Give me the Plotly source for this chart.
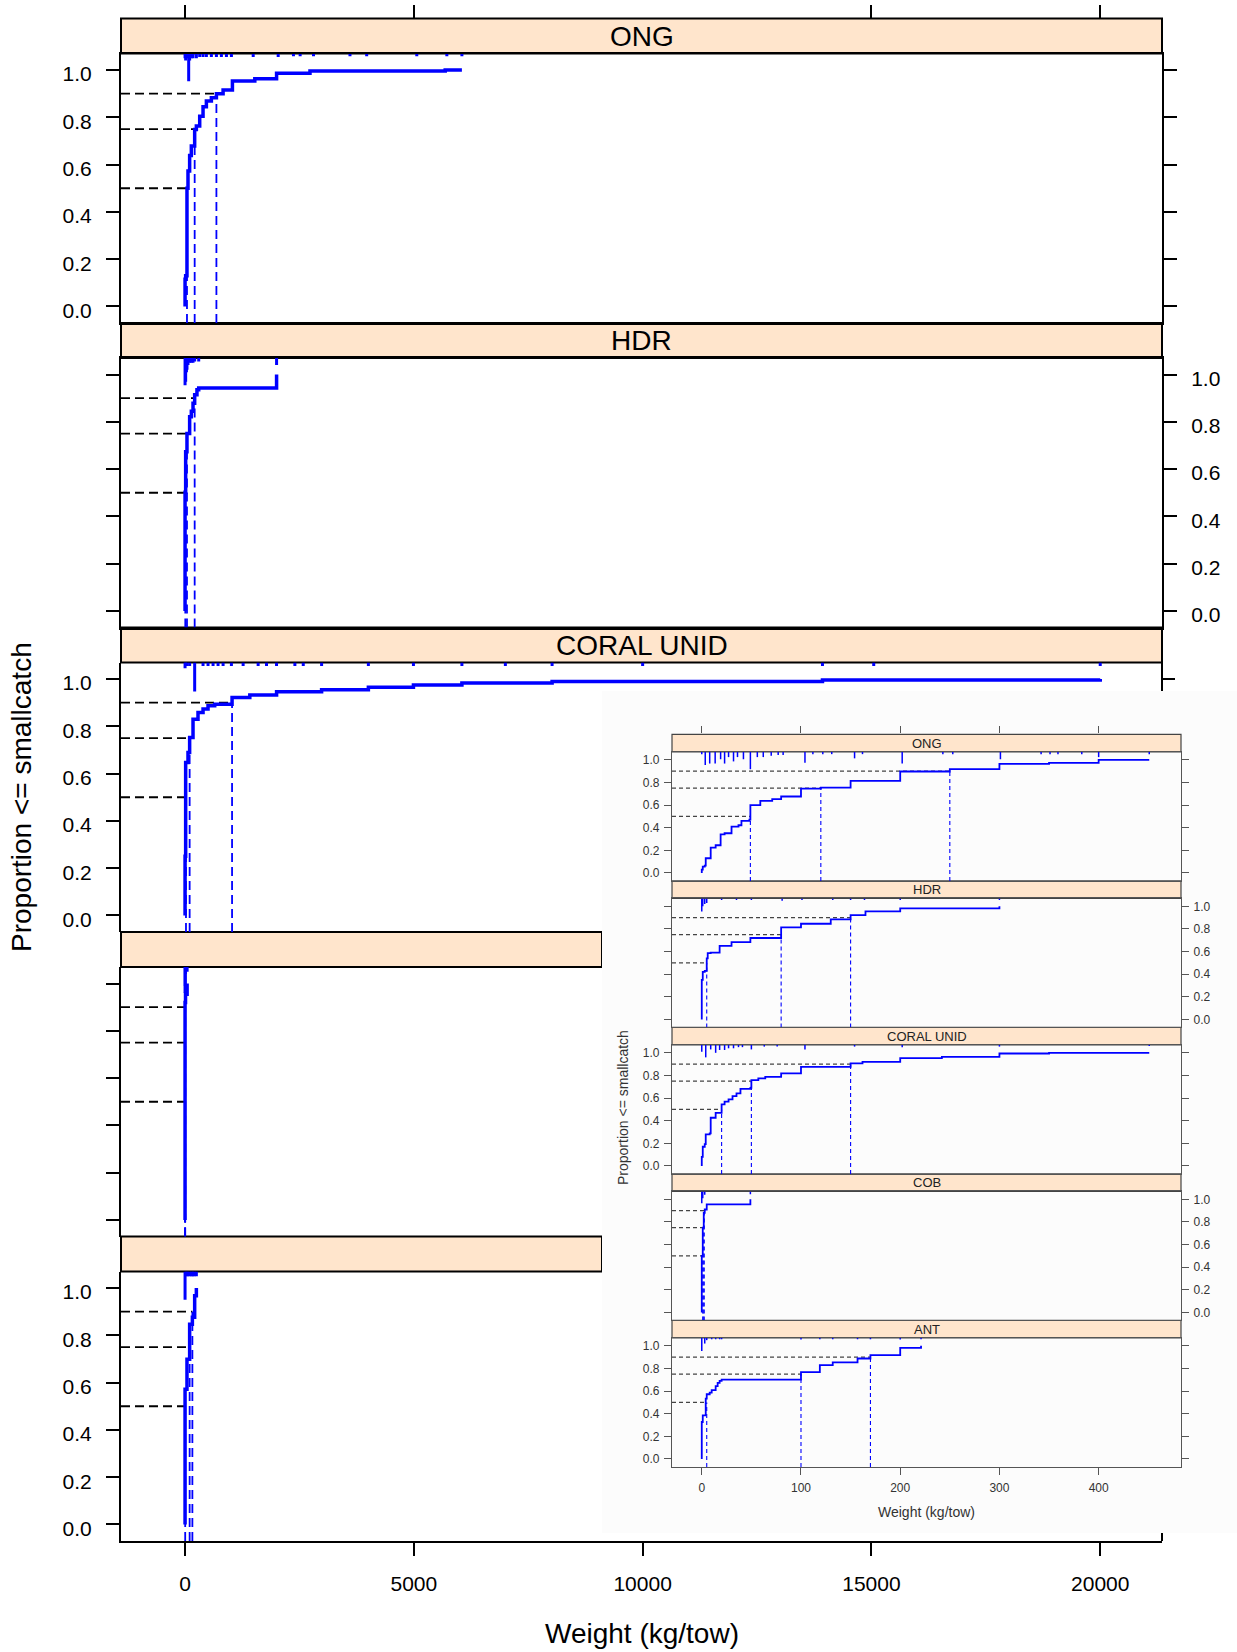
import plotly.graph_objects as go

# ======================= DATA =======================
species = ["ONG", "HDR", "CORAL UNID", "COB", "ANT"]
quant_probs = [0.5, 0.75, 0.9]

# ---- main chart: ECDF step vertices (weight kg/tow, proportion) ----
main_ong_w = [0, 0, 13, 42, 64, 100, 137, 210, 247, 320, 393, 466, 575, 685, 831, 1035, 1524, 2000, 2730, 5685, 6050]
main_ong_p = [0, 0.115, 0.13, 0.50, 0.573, 0.639, 0.679, 0.749, 0.763, 0.805, 0.845, 0.869, 0.883, 0.90, 0.916, 0.954, 0.963, 0.986, 0.996, 1.0, 1.0]
main_hdr_w = [0, 0, 13, 42, 100, 137, 174, 210, 260, 298, 2000]
main_hdr_p = [0, 0.502, 0.673, 0.751, 0.822, 0.845, 0.879, 0.915, 0.936, 0.943, 1.0]
main_coral_w = [0, 0, 13, 64, 100, 174, 283, 393, 502, 648, 1027, 1415, 2000, 2984, 4006, 4991, 6050, 8021, 13930, 20000]
main_coral_p = [0, 0.25, 0.647, 0.689, 0.753, 0.83, 0.859, 0.873, 0.887, 0.893, 0.922, 0.932, 0.946, 0.955, 0.965, 0.975, 0.983, 0.99, 0.996, 1.0]
main_cob_w = [0, 0, 10, 45]
main_cob_p = [0, 0.92, 0.955, 1.0]
main_ant_w = [0, 0, 42, 100, 160, 210, 247]
main_ant_p = [0, 0.572, 0.699, 0.847, 0.876, 0.967, 1.0]

main_quant_ong = [42, 210, 685]
main_quant_hdr = [5, 42, 210]
main_quant_coral = [20, 100, 1027]
main_quant_cob = [1, 2, 3]
main_quant_ant = [3, 100, 160]

# rug (weight, depth in proportion units hanging from panel top)
main_rug_ong_w = [0, 13, 42, 79, 100, 137, 174, 247, 320, 393, 466, 575, 685, 794, 904, 1013, 1489, 2035, 2369, 2515, 2807, 3604, 3969, 5064, 5721, 6050]
main_rug_ong_d = [0.02, 0.03, 0.02, 0.117, 0.03, 0.02, 0.02, 0.02, 0.015, 0.015, 0.015, 0.015, 0.015, 0.015, 0.015, 0.015, 0.015, 0.015, 0.012, 0.012, 0.012, 0.012, 0.012, 0.012, 0.012, 0.012]
main_rug_hdr_w = [0, 13, 30, 42, 64, 100, 137, 174, 210, 298, 2000]
main_rug_hdr_d = [0.115, 0.1, 0.06, 0.05, 0.03, 0.02, 0.02, 0.02, 0.015, 0.015, 0.03]
main_rug_coral_w = [0, 13, 42, 100, 210, 393, 502, 612, 721, 831, 1013, 1269, 1597, 1780, 1999, 2400, 2583, 2984, 4006, 4991, 6050, 7000, 8021, 10000, 13930, 15050, 20000]
main_rug_coral_d = [0.024, 0.015, 0.015, 0.015, 0.123, 0.015, 0.015, 0.015, 0.015, 0.015, 0.015, 0.015, 0.015, 0.015, 0.015, 0.015, 0.015, 0.015, 0.015, 0.015, 0.015, 0.015, 0.015, 0.015, 0.015, 0.015, 0.015]
main_rug_cob_w = [0, 5, 10, 45]
main_rug_cob_d = [0.11, 0.08, 0.03, 0.02]
main_rug_ant_w = [0, 30, 60, 100, 140, 170, 200, 247]
main_rug_ant_d = [0.12, 0.02, 0.02, 0.02, 0.02, 0.02, 0.02, 0.02]

main_x_ticks = [0, 5000, 10000, 15000, 20000]
main_x_ticklabels = ["0", "5000", "10000", "15000", "20000"]
main_top_ticks = [0, 5000, 15000, 20000]
y_ticks = [0.0, 0.2, 0.4, 0.6, 0.8, 1.0]
y_ticklabels = ["0.0", "0.2", "0.4", "0.6", "0.8", "1.0"]

# ---- inset chart ----
ins_ong_w = [0, 0, 1, 3, 4, 9, 14, 19, 23, 30, 37, 40, 48, 49, 59, 71, 80, 100, 120, 150, 200, 250, 300, 350, 400, 451]
ins_ong_p = [0, 0.03, 0.056, 0.065, 0.13, 0.224, 0.245, 0.342, 0.351, 0.41, 0.422, 0.46, 0.472, 0.599, 0.637, 0.652, 0.676, 0.745, 0.755, 0.814, 0.897, 0.917, 0.965, 0.973, 1.0, 1.0]
ins_hdr_w = [0, 0, 1, 3, 5, 6, 9, 18, 30, 49, 80, 100, 130, 150, 165, 200, 300]
ins_hdr_p = [0, 0.35, 0.42, 0.43, 0.54, 0.586, 0.59, 0.65, 0.683, 0.72, 0.814, 0.846, 0.885, 0.923, 0.956, 0.982, 1.0]
ins_coral_w = [0, 0, 1, 3, 4, 8, 9, 14, 20, 23, 27, 31, 35, 39, 49, 50, 57, 64, 80, 100, 150, 162, 200, 242, 300, 350, 451]
ins_coral_p = [0, 0.08, 0.17, 0.194, 0.28, 0.288, 0.426, 0.47, 0.544, 0.568, 0.588, 0.618, 0.641, 0.682, 0.691, 0.759, 0.774, 0.788, 0.818, 0.876, 0.906, 0.92, 0.953, 0.965, 0.994, 1.0, 1.0]
ins_cob_w = [0, 0, 1, 2, 3, 5, 49]
ins_cob_p = [0, 0.5, 0.75, 0.88, 0.91, 0.956, 1.0]
ins_ant_w = [0, 0, 1, 4, 5, 8, 10, 14, 16, 18, 20, 100, 119, 132, 157, 170, 200, 221]
ins_ant_p = [0, 0.327, 0.386, 0.534, 0.572, 0.587, 0.608, 0.643, 0.673, 0.69, 0.702, 0.767, 0.829, 0.853, 0.888, 0.917, 0.982, 1.0]

ins_quant_ong = [49, 120, 250]
ins_quant_hdr = [5, 80, 150]
ins_quant_coral = [20, 50, 150]
ins_quant_cob = [1, 1.5, 2.5]
ins_quant_ant = [5, 100, 170]

ins_rug_ong_w = [0, 3.5, 8, 13.5, 19, 23, 27, 32, 36, 42, 49, 56, 62, 70, 77, 82, 104, 112, 122, 131, 154, 162, 202, 243, 253, 301, 342, 351, 359, 383, 400, 451]
ins_rug_ong_d = [0.02, 0.115, 0.103, 0.103, 0.065, 0.103, 0.046, 0.084, 0.046, 0.065, 0.153, 0.046, 0.046, 0.034, 0.027, 0.027, 0.095, 0.02, 0.02, 0.02, 0.057, 0.02, 0.103, 0.02, 0.02, 0.065, 0.02, 0.02, 0.02, 0.02, 0.046, 0.02]
ins_rug_hdr_w = [0, 1, 3, 5, 20, 35, 50, 81, 101, 132, 150, 164, 200, 300]
ins_rug_hdr_d = [0.115, 0.07, 0.05, 0.041, 0.015, 0.015, 0.015, 0.02, 0.015, 0.015, 0.015, 0.015, 0.015, 0.015]
ins_rug_coral_w = [0, 4, 9, 14, 18, 23, 27, 32, 37, 41, 50, 63, 76, 104, 154, 202, 300, 451]
ins_rug_coral_d = [0.06, 0.11, 0.04, 0.07, 0.045, 0.045, 0.03, 0.03, 0.02, 0.02, 0.04, 0.015, 0.015, 0.04, 0.015, 0.02, 0.015, 0.01]
ins_rug_cob_w = [0, 1, 3, 49]
ins_rug_cob_d = [0.105, 0.06, 0.03, 0.025]
ins_rug_ant_w = [0, 3, 5, 10, 14, 18, 20, 100, 119, 132, 157, 170, 200, 221]
ins_rug_ant_d = [0.115, 0.05, 0.02, 0.012, 0.012, 0.012, 0.012, 0.015, 0.012, 0.012, 0.012, 0.012, 0.015, 0.012]

ins_x_ticks = [0, 100, 200, 300, 400]
ins_x_ticklabels = ["0", "100", "200", "300", "400"]

x_title = "Weight (kg/tow)"
y_title = "Proportion &lt;= smallcatch"

# ======================= LAYOUT GEOMETRY (pixels) =======================
W, H = 1237, 1652
def fx(px): return px / W
def fy(py): return 1 - py / H

MX0, MX1 = 121, 1162
M_RANGE = [-1400, 21350]
M_STRIP_TOP0, M_STRIP_H, M_PITCH = 18.5, 35, 304.5
CUT_X = 602
INSET = (602, 691, 1237, 1533)
IX0, IX1 = 672, 1181
I_RANGE = [-30, 483]
I_STRIP_TOP0, I_STRIP_H, I_PITCH = 734.4, 17.5, 146.5
Y_RANGE = [-0.07, 1.07]

FONT = "Liberation Sans, Arial, sans-serif"
BLUE = "#0000FF"
STRIP = "#FFE5CC"
IGRAY = "#555555"

main_curves = [(main_ong_w, main_ong_p), (main_hdr_w, main_hdr_p), (main_coral_w, main_coral_p),
               (main_cob_w, main_cob_p), (main_ant_w, main_ant_p)]
main_quants = [main_quant_ong, main_quant_hdr, main_quant_coral, main_quant_cob, main_quant_ant]
main_rugs = [(main_rug_ong_w, main_rug_ong_d), (main_rug_hdr_w, main_rug_hdr_d), (main_rug_coral_w, main_rug_coral_d),
             (main_rug_cob_w, main_rug_cob_d), (main_rug_ant_w, main_rug_ant_d)]
ins_curves = [(ins_ong_w, ins_ong_p), (ins_hdr_w, ins_hdr_p), (ins_coral_w, ins_coral_p),
              (ins_cob_w, ins_cob_p), (ins_ant_w, ins_ant_p)]
ins_quants = [ins_quant_ong, ins_quant_hdr, ins_quant_coral, ins_quant_cob, ins_quant_ant]
ins_rugs = [(ins_rug_ong_w, ins_rug_ong_d), (ins_rug_hdr_w, ins_rug_hdr_d), (ins_rug_coral_w, ins_rug_coral_d),
            (ins_rug_cob_w, ins_rug_cob_d), (ins_rug_ant_w, ins_rug_ant_d)]

fig = go.Figure()
layout = {}
shapes = []
annotations = []


def add_panel_traces(k, curve, quants, rug, xr, lw, rw, dw, dash, hcolor):
    xa, ya = f"x{k}", f"y{k}"
    w, p = curve
    # rug
    rx, ry = [], []
    for ww, dd in zip(*rug):
        rx += [ww, ww, None]
        ry += [Y_RANGE[1], Y_RANGE[1] - dd, None]
    fig.add_trace(go.Scatter(x=rx, y=ry, mode="lines", line=dict(color=BLUE, width=rw),
                             xaxis=xa, yaxis=ya, hoverinfo="skip", showlegend=False))
    # quantile guide lines
    hx, hy, vx, vy = [], [], [], []
    for q, pr in zip(quants, quant_probs):
        hx += [xr[0], q, None]
        hy += [pr, pr, None]
        vx += [q, q, None]
        vy += [Y_RANGE[0], pr, None]
    fig.add_trace(go.Scatter(x=hx, y=hy, mode="lines", line=dict(color=hcolor, width=dw, dash=dash),
                             xaxis=xa, yaxis=ya, hoverinfo="skip", showlegend=False))
    fig.add_trace(go.Scatter(x=vx, y=vy, mode="lines", line=dict(color=BLUE, width=dw, dash=dash),
                             xaxis=xa, yaxis=ya, hoverinfo="skip", showlegend=False))
    # ECDF
    fig.add_trace(go.Scatter(x=w, y=p, mode="lines", line=dict(color=BLUE, width=lw, shape="hv"),
                             xaxis=xa, yaxis=ya, hoverinfo="skip", showlegend=False))


# ---------------- main panels ----------------
for i in range(5):
    k = i + 1
    st = M_STRIP_TOP0 + i * M_PITCH
    top, bot = st + M_STRIP_H, st + M_PITCH
    xax = dict(domain=[fx(MX0), fx(MX1)], range=M_RANGE, anchor=f"y{k}", showgrid=False, zeroline=False,
               showticklabels=False, ticks="", showline=False, linecolor="black", linewidth=2)
    yax = dict(domain=[fy(bot), fy(top)], range=Y_RANGE, anchor=f"x{k}", showgrid=False, zeroline=False,
               tickvals=y_ticks, ticktext=y_ticklabels, ticks="outside", ticklen=13, tickwidth=2,
               tickcolor="black", showline=True, linecolor="black", linewidth=2,
               tickfont=dict(family=FONT, size=21, color="black"), ticklabelstandoff=10,
               ticklabelshift=4)
    if i in (0, 1):
        xax.update(showline=True, mirror=True)
        yax.update(mirror="ticks")
    if i == 1:
        yax.update(side="right")
    if i == 3:
        yax.update(showticklabels=False)
    if i == 4:
        xax.update(showline=True, mirror=False, ticks="outside", ticklen=13, tickwidth=2, tickcolor="black",
                   showticklabels=True, tickvals=main_x_ticks, ticktext=main_x_ticklabels,
                   tickfont=dict(family=FONT, size=21, color="black"), ticklabelstandoff=10)
    layout[f"xaxis{k}"] = xax
    layout[f"yaxis{k}"] = yax
    right = MX1 if i < 3 else CUT_X
    shapes.append(dict(type="rect", xref="paper", yref="paper", x0=fx(MX0), x1=fx(right), y0=fy(top), y1=fy(st),
                       fillcolor=STRIP, line=dict(color="black", width=2), layer="below"))
    if i < 3:
        annotations.append(dict(text=species[i], xref="paper", yref="paper", x=fx((MX0 + MX1) / 2),
                                y=fy(st + M_STRIP_H / 2), showarrow=False, xanchor="center", yanchor="middle",
                                font=dict(family=FONT, size=28, color="black")))
    add_panel_traces(k, main_curves[i], main_quants[i], main_rugs[i], M_RANGE, 3.5, 3, 1.8, "9px,5px", "black")

# visible bits of panel-3 right border and its 1.0 tick above the inset
shapes.append(dict(type="line", xref="paper", yref="paper", x0=fx(MX1), x1=fx(MX1),
                   y0=fy(M_STRIP_TOP0 + 2 * M_PITCH + M_STRIP_H), y1=fy(INSET[1]), line=dict(color="black", width=2)))
shapes.append(dict(type="line", xref="paper", yref="y3", x0=fx(MX1), x1=fx(MX1 + 13), y0=1.0, y1=1.0,
                   line=dict(color="black", width=2)))
shapes.append(dict(type="line", xref="paper", yref="paper", x0=fx(MX1), x1=fx(MX1),
                   y0=fy(INSET[3]), y1=fy(M_STRIP_TOP0 + 4 * M_PITCH + M_PITCH), line=dict(color="black", width=2)))

# top ticks above first strip
layout["xaxis11"] = dict(domain=[fx(MX0), fx(MX1)], range=M_RANGE, anchor="y11", side="top", ticks="outside",
                         ticklen=13, tickwidth=2, tickcolor="black", showticklabels=False, showline=False,
                         showgrid=False, zeroline=False, tickvals=main_top_ticks)
layout["yaxis11"] = dict(domain=[fy(M_STRIP_TOP0 + M_STRIP_H), fy(M_STRIP_TOP0)], range=[0, 1], anchor="x11",
                         visible=False)
fig.add_trace(go.Scatter(x=[None], y=[None], xaxis="x11", yaxis="y11", showlegend=False, hoverinfo="skip"))

annotations.append(dict(text=x_title, xref="paper", yref="paper", x=fx((MX0 + MX1) / 2), y=fy(1633),
                        showarrow=False, xanchor="center", yanchor="middle",
                        font=dict(family=FONT, size=28, color="black")))
annotations.append(dict(text=y_title, xref="paper", yref="paper", x=fx(21), y=fy(797), textangle=-90,
                        showarrow=False, xanchor="center", yanchor="middle",
                        font=dict(family=FONT, size=28, color="black")))

# ---------------- inset ----------------
shapes.append(dict(type="rect", xref="paper", yref="paper", x0=fx(INSET[0]), x1=fx(INSET[2]),
                   y0=fy(INSET[3]), y1=fy(INSET[1]), fillcolor="#FCFCFC", line=dict(width=0), layer="below"))
for i in range(5):
    k = i + 6
    st = I_STRIP_TOP0 + i * I_PITCH
    top, bot = st + I_STRIP_H, st + I_PITCH
    xax = dict(domain=[fx(IX0), fx(IX1)], range=I_RANGE, anchor=f"y{k}", showgrid=False, zeroline=False,
               showticklabels=False, ticks="", showline=True, mirror=True, linecolor=IGRAY, linewidth=1.2)
    yax = dict(domain=[fy(bot), fy(top)], range=Y_RANGE, anchor=f"x{k}", showgrid=False, zeroline=False,
               tickvals=y_ticks, ticktext=y_ticklabels, ticks="outside", ticklen=7, tickwidth=1.2,
               tickcolor=IGRAY, showline=True, mirror="ticks", linecolor=IGRAY, linewidth=1.2,
               side="right" if i % 2 == 1 else "left",
               tickfont=dict(family=FONT, size=12, color="#333333"), ticklabelstandoff=2)
    if i == 4:
        xax.update(ticks="outside", ticklen=7, tickwidth=1.2, tickcolor=IGRAY, showticklabels=True,
                   tickvals=ins_x_ticks, ticktext=ins_x_ticklabels,
                   tickfont=dict(family=FONT, size=12, color="#333333"), ticklabelstandoff=3)
    layout[f"xaxis{k}"] = xax
    layout[f"yaxis{k}"] = yax
    shapes.append(dict(type="rect", xref="paper", yref="paper", x0=fx(IX0), x1=fx(IX1), y0=fy(top), y1=fy(st),
                       fillcolor=STRIP, line=dict(color="#444444", width=1.2), layer="below"))
    annotations.append(dict(text=species[i], xref="paper", yref="paper", x=fx((IX0 + IX1) / 2),
                            y=fy(st + I_STRIP_H / 2), showarrow=False, xanchor="center", yanchor="middle",
                            font=dict(family=FONT, size=13, color="#222222")))
    add_panel_traces(k, ins_curves[i], ins_quants[i], ins_rugs[i], I_RANGE, 1.8, 1.5, 1.1, "4px,3px", "#444444")

layout["xaxis12"] = dict(domain=[fx(IX0), fx(IX1)], range=I_RANGE, anchor="y12", side="top", ticks="outside",
                         ticklen=7, tickwidth=1.2, tickcolor=IGRAY, showticklabels=False, showline=False,
                         showgrid=False, zeroline=False, tickvals=ins_x_ticks)
layout["yaxis12"] = dict(domain=[fy(I_STRIP_TOP0 + I_STRIP_H), fy(I_STRIP_TOP0)], range=[0, 1], anchor="x12",
                         visible=False)
fig.add_trace(go.Scatter(x=[None], y=[None], xaxis="x12", yaxis="y12", showlegend=False, hoverinfo="skip"))

annotations.append(dict(text=x_title, xref="paper", yref="paper", x=fx((IX0 + IX1) / 2), y=fy(1512),
                        showarrow=False, xanchor="center", yanchor="middle",
                        font=dict(family=FONT, size=14, color="#333333")))
annotations.append(dict(text=y_title, xref="paper", yref="paper", x=fx(623), y=fy(1108), textangle=-90,
                        showarrow=False, xanchor="center", yanchor="middle",
                        font=dict(family=FONT, size=14, color="#333333")))

fig.update_layout(width=W, height=H, margin=dict(l=0, r=0, t=0, b=0), paper_bgcolor="white",
                  plot_bgcolor="rgba(0,0,0,0)", showlegend=False, shapes=shapes, annotations=annotations,
                  **layout)
fig.write_html("out.html", config={"displayModeBar": False},
               post_script="document.body.style.margin='0px';document.body.style.overflow='hidden';")
